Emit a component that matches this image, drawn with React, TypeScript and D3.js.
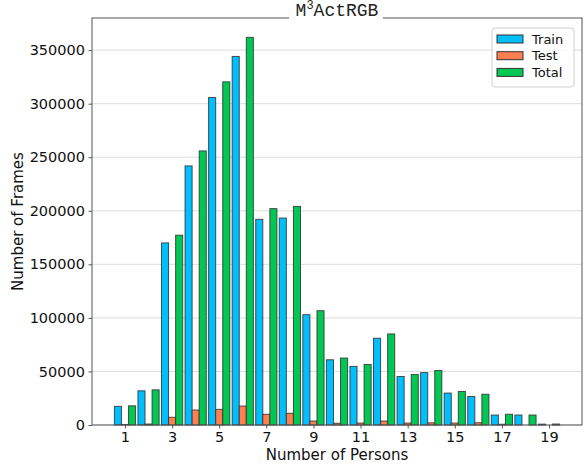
import React, { useRef, useEffect } from 'react';
import * as d3 from 'd3';

// number of persons per frame (x categories)
const persons = [1, 2, 3, 4, 5, 6, 7, 8, 9, 10, 11, 12, 13, 14, 15, 16, 17, 18, 19];
const trainFrames = [17400, 31900, 170000, 241900, 305800, 344100, 192000, 193200, 103000, 60900, 54700, 81000, 45300, 48900, 29800, 26600, 9300, 9300, 800];
const testFrames = [500, 900, 7200, 14000, 14600, 17700, 10000, 10900, 3700, 1600, 1800, 3700, 1800, 2000, 1800, 2100, 700, 0, 0];
const totalFrames = [17900, 32800, 177200, 255900, 320400, 361900, 202000, 204100, 106700, 62500, 56500, 85000, 47100, 50900, 31300, 28700, 10000, 9300, 900];
const xTicks = [1, 3, 5, 7, 9, 11, 13, 15, 17, 19];
const yTicks = [0, 50000, 100000, 150000, 200000, 250000, 300000, 350000];

const series = [
  { name: 'Train', values: trainFrames, color: '#00bfff', offset: -0.3 },
  { name: 'Test', values: testFrames, color: '#ff7f50', offset: 0 },
  { name: 'Total', values: totalFrames, color: '#00c853', offset: 0.3 },
];

const App = () => {
  const svgRef = useRef(null);

  useEffect(() => {
    const width = 584;
    const height = 465;
    const left = 92, right = 582, top = 18, bottom = 425;
    const barW = 0.3;

    const svg = d3.select(svgRef.current);
    svg.selectAll('*').remove();
    svg.attr('width', width).attr('height', height);

    const x = d3.scaleLinear().domain([-0.4, 20.4]).range([left, right]);
    const y = d3.scaleLinear().domain([0, 380000]).range([bottom, top]);

    // horizontal grid
    svg.append('g')
      .selectAll('line')
      .data(yTicks)
      .enter()
      .append('line')
      .attr('x1', left)
      .attr('x2', right)
      .attr('y1', d => y(d))
      .attr('y2', d => y(d))
      .attr('stroke', '#dcdcdc')
      .attr('stroke-width', 1);

    // bars
    series.forEach(s => {
      svg.append('g')
        .selectAll('rect')
        .data(persons)
        .enter()
        .append('rect')
        .attr('x', (d) => x(d + s.offset - barW / 2))
        .attr('width', x(barW) - x(0))
        .attr('y', (d, i) => y(s.values[i]))
        .attr('height', (d, i) => y(0) - y(s.values[i]))
        .attr('fill', s.color)
        .attr('stroke', '#333')
        .attr('stroke-opacity', 0.85)
        .attr('stroke-width', 1);
    });

    // axes
    const yAxis = svg.append('g')
      .attr('transform', `translate(${left},0)`)
      .call(d3.axisLeft(y).tickValues(yTicks).tickSize(3.5).tickPadding(3.5).tickFormat(d3.format('d')));
    const xAxis = svg.append('g')
      .attr('transform', `translate(0,${bottom})`)
      .call(d3.axisBottom(x).tickValues(xTicks).tickSize(3.5).tickPadding(3.5).tickFormat(d3.format('d')));
    [yAxis, xAxis].forEach(ax => {
      ax.select('.domain').remove();
      ax.selectAll('line').attr('stroke', '#555');
      ax.selectAll('text')
        .attr('fill', '#111')
        .style('font-family', 'DejaVu Sans, sans-serif')
        .style('font-size', '14.5px');
    });

    // frame
    svg.append('rect')
      .attr('x', left)
      .attr('y', top)
      .attr('width', right - left)
      .attr('height', bottom - top)
      .attr('fill', 'none')
      .attr('stroke', '#555')
      .attr('stroke-width', 1);

    // axis labels
    svg.append('text')
      .attr('x', (left + right) / 2)
      .attr('y', 460)
      .attr('text-anchor', 'middle')
      .attr('fill', '#111')
      .style('font-family', 'DejaVu Sans, sans-serif')
      .style('font-size', '15px')
      .text('Number of Persons');
    svg.append('text')
      .attr('transform', `translate(23,${(top + bottom) / 2}) rotate(-90)`)
      .attr('text-anchor', 'middle')
      .attr('fill', '#111')
      .style('font-family', 'DejaVu Sans, sans-serif')
      .style('font-size', '15px')
      .text('Number of Frames');

    // title with white box over the top spine
    svg.append('rect')
      .attr('x', 289)
      .attr('y', 0)
      .attr('width', 94)
      .attr('height', 21)
      .attr('fill', 'white');
    const title = svg.append('text')
      .attr('x', (left + right) / 2)
      .attr('y', 16)
      .attr('text-anchor', 'middle')
      .attr('fill', '#222')
      .style('font-family', 'Liberation Mono, monospace')
      .style('font-size', '18px');
    title.append('tspan').text('M');
    title.append('tspan').attr('dy', -7).style('font-size', '12px').text('3');
    title.append('tspan').attr('dy', 7).text('ActRGB');

    // legend
    const lg = svg.append('g').attr('transform', 'translate(492,28)');
    lg.append('rect')
      .attr('width', 82)
      .attr('height', 59)
      .attr('rx', 3)
      .attr('fill', 'white')
      .attr('fill-opacity', 0.8)
      .attr('stroke', '#d0d0d0');
    series.forEach((s, i) => {
      const row = lg.append('g').attr('transform', `translate(0,${11 + i * 16.7})`);
      row.append('rect')
        .attr('x', 5)
        .attr('y', -4)
        .attr('width', 26)
        .attr('height', 8)
        .attr('fill', s.color)
        .attr('stroke', '#333')
        .attr('stroke-width', 1);
      row.append('text')
        .attr('x', 40)
        .attr('y', 4.5)
        .attr('fill', '#111')
        .style('font-family', 'DejaVu Sans, sans-serif')
        .style('font-size', '13px')
        .text(s.name);
    });
  }, []);

  return (
    <svg ref={svgRef} style={{ position: 'absolute', left: 0, top: 0, display: 'block' }}></svg>
  );
};

export default App;
